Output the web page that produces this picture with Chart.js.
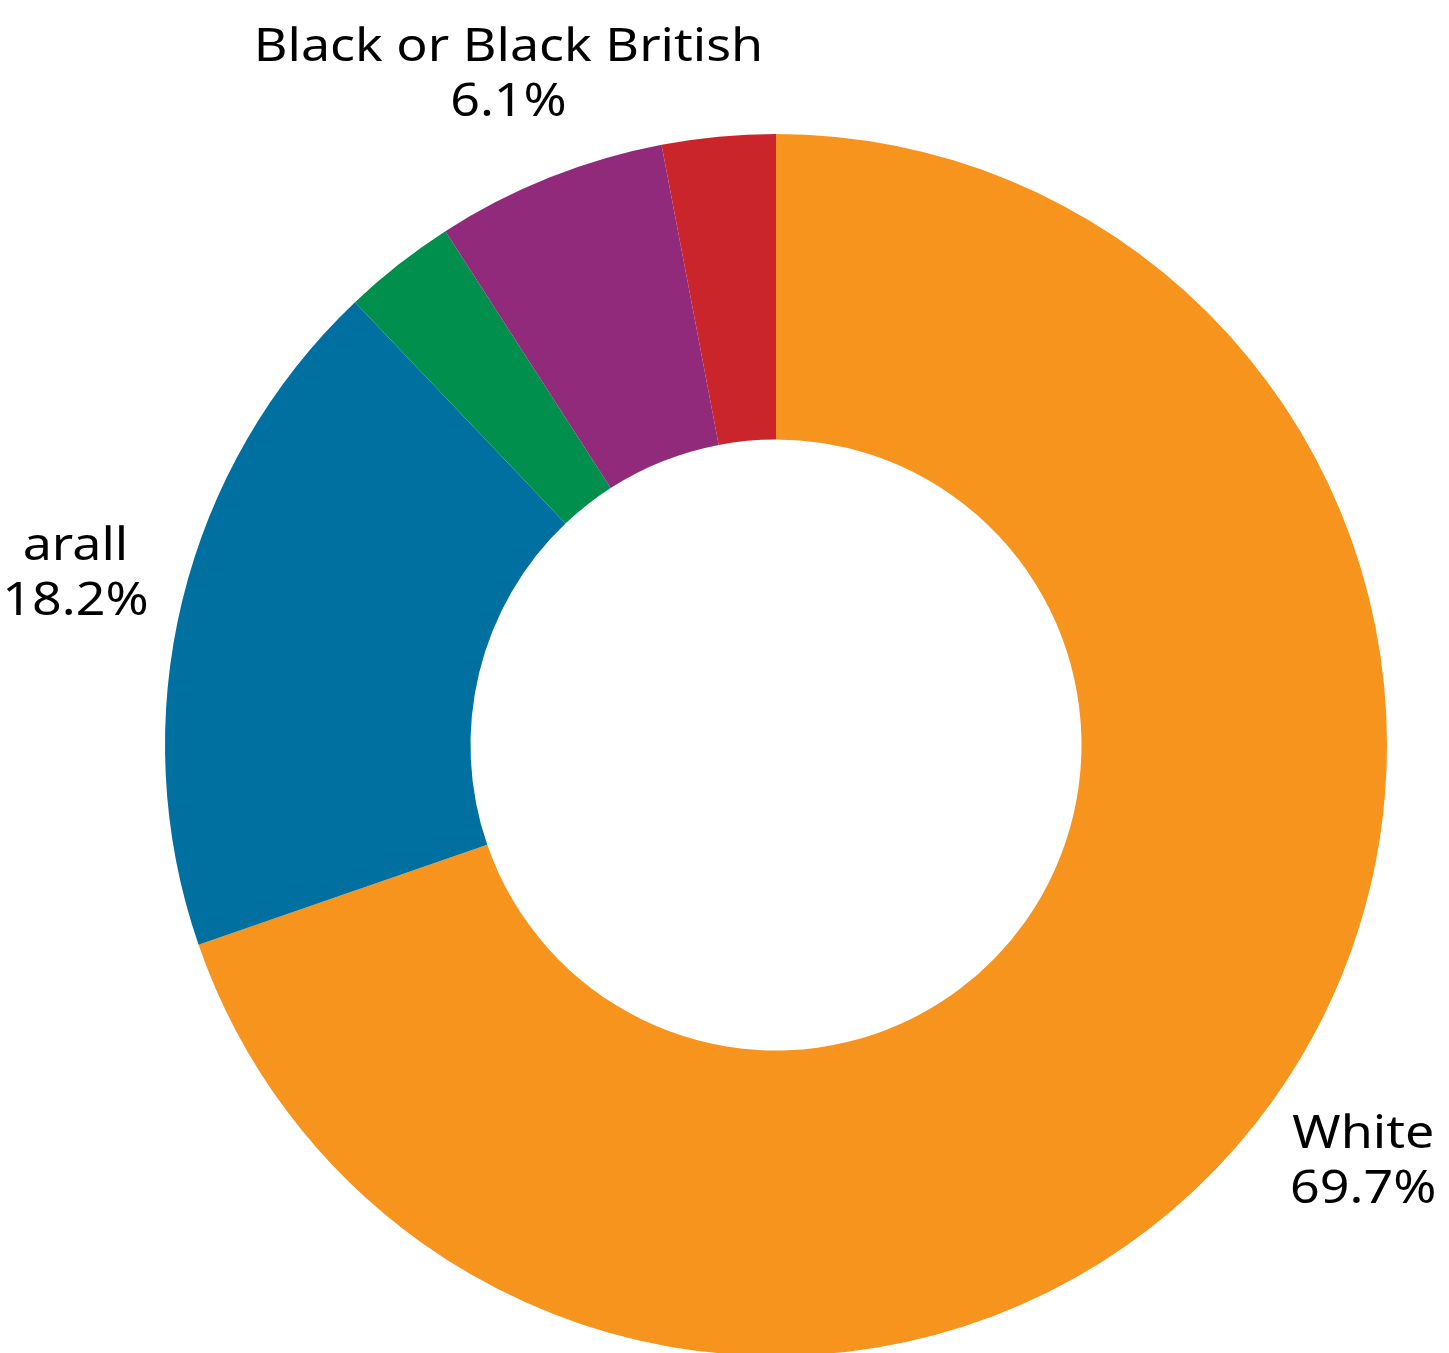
<!DOCTYPE html>
<html>
<head>
<meta charset="utf-8">
<script src="https://cdn.jsdelivr.net/npm/chart.js@4.4.0/dist/chart.umd.min.js"></script>
<style>
  html, body { margin: 0; padding: 0; background: #fff; overflow: hidden; }
  #wrap { width: 1449px; height: 1360px; position: relative; }
</style>
</head>
<body>
<div id="wrap"><canvas id="chart-ethnic"></canvas></div>
<script>
// Ethnic group breakdown (%)
const groups = ['White', 'arall', 'Mixed', 'Black or Black British', 'Asian or Asian British'];
const shares = [69.7, 18.2, 3.0, 6.1, 3.0];
const sliceColors = ['#F7941E', '#0070A1', '#008F4C', '#912A7A', '#C9252B'];
const minLabelShare = 5;

// Two-line labels (name + percentage) placed outside the ring
const outsideLabels = {
  id: 'outsideLabels',
  afterDraw(chart) {
    const ctx = chart.ctx;
    const meta = chart.getDatasetMeta(0);
    const stretch = 1.13; // widen glyphs a little
    meta.data.forEach((arc, i) => {
      if (shares[i] < minLabelShare) return;
      const mid = (arc.startAngle + arc.endAngle) / 2;
      const r = arc.outerRadius + 110;
      const x = arc.x + Math.cos(mid) * r;
      const y = arc.y + Math.sin(mid) * r;
      ctx.save();
      ctx.translate(x, y);
      ctx.scale(stretch, 1);
      ctx.font = '46px "Noto Sans", sans-serif';
      ctx.fillStyle = '#000';
      ctx.textAlign = 'center';
      ctx.textBaseline = 'middle';
      ctx.fillText(groups[i], 0, -28);
      ctx.fillText(shares[i].toFixed(1) + '%', 0, 27);
      ctx.restore();
    });
  }
};

new Chart(document.getElementById('chart-ethnic'), {
  type: 'doughnut',
  data: {
    labels: groups,
    datasets: [{ data: shares, backgroundColor: sliceColors, borderWidth: 0 }]
  },
  options: {
    responsive: true, maintainAspectRatio: false, animation: false,
    cutout: '50%',
    layout: { padding: { left: 165, right: 62, top: 134, bottom: 4 } },
    plugins: { legend: { display: false }, tooltip: { enabled: false } }
  },
  plugins: [outsideLabels]
});
</script>
</body>
</html>
